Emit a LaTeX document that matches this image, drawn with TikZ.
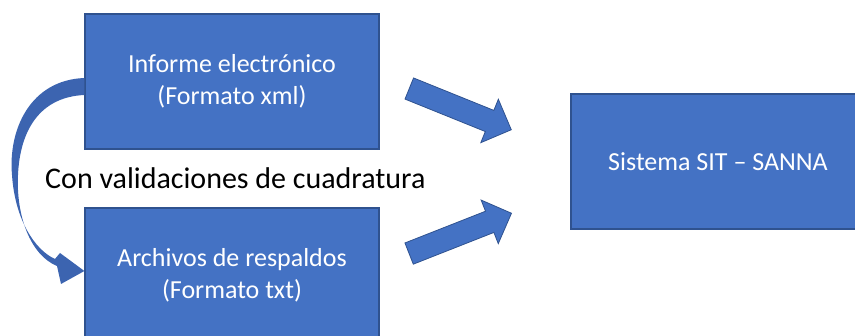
\documentclass[tikz,border=0pt]{standalone}
\usepackage{fontspec}
\setmainfont{Carlito}
\usetikzlibrary{
  shapes.arrows,  % Shape "single arrow"
  positioning,
}
\definecolor{boxfill}{RGB}{68,114,196}
\definecolor{boxline}{RGB}{47,82,143}
\definecolor{bendfill}{RGB}{60,100,176}
\tikzset{
  semithick,
  >=stealth,
  my box/.style={
    draw=boxline,
    fill=boxfill,
    line width=1.2pt,
    minimum width=294pt,
    minimum height=135pt,
    text=white,
    align=center,
    font=\fontsize{26}{32}\selectfont,
    rectangle
  },
  my arrow/.style={
    single arrow,
    draw=boxline,
    fill=boxfill,
    line width=0.8pt,
    minimum height=110pt,
    single arrow head extend=12pt,
    single arrow tip angle=90,
    inner xsep=0pt,
    inner ysep=11pt
  },
  my label/.style={
    font=\fontsize{30}{34}\selectfont,
    anchor=west,
    inner sep=0pt
  }
}
\begin{document}
\begin{tikzpicture}[x=1pt,y=-1pt]
\useasboundingbox (0,0) rectangle (855,336);
\node[my box] (informe)  at (232,81.5)  {Informe electrónico\\(Formato xml)};
\node[my box] (archivos) at (232,275.5) {Archivos de respaldos\\(Formato txt)};
\node[my box] (sistema)  at (718,161.5) {Sistema SIT -- SANNA};
\node[my arrow,rotate=-22] (flecha1) at (455,107) {};
\node[my arrow,rotate=21.5] (flecha2) at (455,235.5) {};
\node[my label] (cuadratura) at (45,178) {Con validaciones de cuadratura};
% curved arrow from the report down to the backup files
\coordinate (bendtop) at (informe.west |- 0,78);
\coordinate (bendtip) at (archivos.west |- 0,271);
\fill[bendfill] (bendtop) .. controls (30,80) and (8,130) .. (12,175)
  .. controls (15,220) and (35,250) .. (55,259) -- (60,253) -- (bendtip)
  -- (61,284) -- (57,266) .. controls (30,255) and (16,215) .. (18,175)
  .. controls (20,130) and (40,97) .. ([yshift=-17pt]bendtop) -- cycle;
\end{tikzpicture}
\end{document}
